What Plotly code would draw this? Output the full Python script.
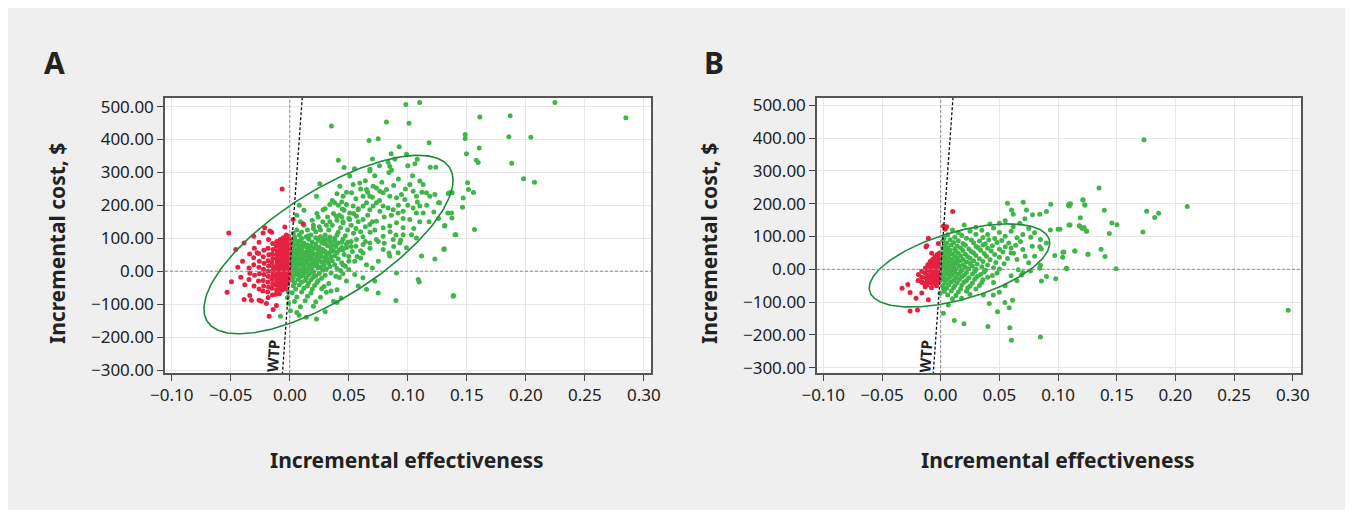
import numpy as np
import plotly.graph_objects as go

# ---------------- data ----------------
X_TICKS = [-0.10, -0.05, 0.00, 0.05, 0.10, 0.15, 0.20, 0.25, 0.30]
Y_TICKS = [-300, -200, -100, 0, 100, 200, 300, 400, 500]
WTP = 50000  # $ per unit of effectiveness (slope of WTP line)

# Panel A: (incremental effectiveness, incremental cost)
A_GREEN = [
    (0.004,96),(0.009,93),(0.016,97),(0.024,94),(0.031,96),(0.038,92),(0.045,97),
    (0.002,88),(0.007,90),(0.012,86),(0.019,89),(0.027,87),(0.034,90),(0.041,86),
    (0.005,81),(0.011,83),(0.015,80),(0.022,82),(0.029,84),(0.036,80),(0.048,83),
    (0.003,75),(0.008,77),(0.013,74),(0.018,76),(0.025,73),(0.032,77),(0.039,75),(0.044,72),
    (0.002,68),(0.006,66),(0.010,69),(0.016,67),(0.021,70),(0.028,66),(0.035,68),(0.042,65),
    (0.004,61),(0.009,63),(0.014,60),(0.019,62),(0.024,64),(0.030,60),(0.037,62),
    (0.003,56),(0.007,54),(0.012,57),(0.017,55),(0.023,53),(0.027,57),(0.033,55),(0.040,58),
    (0.002,49),(0.005,51),(0.010,48),(0.015,50),(0.020,52),(0.026,48),(0.031,50),(0.038,47),(0.046,51),
    (0.004,44),(0.008,42),(0.013,45),(0.018,43),(0.022,46),(0.029,42),(0.035,44),
    (0.002,38),(0.006,36),(0.011,39),(0.016,37),(0.021,35),(0.025,39),(0.032,37),(0.041,38),
    (0.003,31),(0.009,33),(0.014,30),(0.019,32),(0.024,34),(0.030,30),(0.036,32),
    (0.002,26),(0.005,24),(0.010,27),(0.015,25),(0.020,23),(0.027,27),(0.033,25),(0.044,26),
    (0.004,19),(0.008,21),(0.012,18),(0.017,20),(0.023,22),(0.029,18),(0.038,20),
    (0.002,14),(0.006,12),(0.011,15),(0.016,13),(0.021,16),(0.026,12),(0.034,14),
    (0.003,7),(0.007,9),(0.013,6),(0.018,8),(0.024,10),(0.031,7),(0.040,8),
    (0.002,2),(0.005,0),(0.010,3),(0.015,1),(0.020,-1),(0.028,3),
    (0.004,-5),(0.008,-3),(0.012,-6),(0.019,-4),(0.025,-7),(0.035,-5),
    (0.002,-12),(0.006,-10),(0.011,-13),(0.016,-11),(0.022,-14),(0.030,-12),
    (0.003,-19),(0.009,-17),(0.014,-20),(0.020,-18),(0.027,-21),(0.042,-19),
    (0.002,-27),(0.007,-25),(0.013,-28),(0.018,-26),(0.024,-29),
    (0.004,-35),(0.010,-33),(0.016,-36),(0.023,-34),(0.033,-37),
    (0.003,-44),(0.008,-42),(0.015,-45),(0.021,-43),(0.029,-46),
    (0.005,-54),(0.012,-52),(0.019,-55),(0.027,-53),(0.040,-56),
    (0.002,-65),(0.010,-63),(0.018,-66),(0.031,-64),
    (0.006,-78),(0.015,-76),(0.026,-79),
    (0.004,-92),(0.013,-90),(0.022,-93),(0.037,-91),
    (0.009,-108),(0.020,-106),(0.006,-125),(0.030,-123),(0.014,-140),
    (0.050,30),(0.053,60),(0.057,45),(0.049,88),(0.052,75),(0.047,15),(0.043,2),(0.039,-15),(0.045,-8),
    (0.004,104),(0.010,100),(0.016,108),(0.022,102),(0.028,98),(0.034,104),(0.040,110),(0.003,115),
    (0.010,118),(0.020,130),(0.026,125),(0.031,140),(0.034,150),(0.040,155),(0.044,165),(0.019,155),
    (0.023,175),(0.009,150),(0.008,200),(0.012,185),(0.006,170),
    (0.030,110),(0.033,125),(0.036,140),(0.038,100),(0.041,118),(0.043,132),(0.045,150),(0.047,108),
    (0.049,125),(0.052,140),(0.054,115),(0.056,130),(0.058,150),(0.060,120),(0.062,105),(0.064,135),
    (0.066,170),(0.068,118),(0.070,150),(0.072,125),(0.030,85),(0.034,92),(0.039,78),(0.044,88),
    (0.048,72),(0.052,90),(0.056,76),(0.060,62),(0.064,90),(0.028,150),(0.032,165),(0.037,175),
    (0.042,170),(0.046,185),(0.050,160),(0.054,175),(0.058,190),(0.025,135),(0.022,120),(0.026,105),
    (0.035,60),(0.040,55),(0.045,65),(0.050,45),(0.055,30),(0.060,40),(0.065,20),(0.070,10),(0.075,30),
    (0.080,85),(0.085,120),(0.090,110),(0.062,55),(0.068,70),(0.075,90),(0.045,20),(0.050,5),(0.055,-10),
    (0.048,-30),(0.058,-45),(0.062,-20),(0.035,-60),(0.040,-95),(0.065,-55),(0.072,-30),(0.018,110),
    (0.015,125),(0.012,140),(0.020,140),(0.008,110),(0.006,125),(0.014,105),(0.024,165),(0.030,190),
    (0.044,210),(0.048,240),(0.056,220),(0.060,250),(0.064,275),(0.072,290),(0.078,270),(0.084,300),
    (0.088,260),(0.092,280),(0.098,250),(0.104,290),(0.108,210),(0.112,240),(0.116,200),(0.096,160),
    (0.092,200),(0.086,170),(0.080,165),(0.076,215),(0.070,225),(0.066,240),(0.040,235),(0.036,215),
    (0.068,310),(0.076,320),(0.100,320),(0.108,340),(0.122,180),(0.118,150),(0.126,160),(0.100,200),
    (0.094,95),(0.088,75),(0.084,55),(0.105,130),(0.110,150),
    (0.0508,289),(0.0537,263),(0.0593,268),(0.0523,238),(0.0621,228),(0.065,248),(0.0678,228),
    (0.0706,258),(0.0734,253),(0.0763,243),(0.0791,238),(0.0819,248),(0.0847,228),(0.0904,223),
    (0.0946,233),(0.0975,218),(0.1017,263),(0.1045,243),(0.1073,228),(0.1102,274),(0.113,263),
    (0.1158,238),(0.1186,228),(0.1229,233),(0.126,208),(0.1102,198),(0.1045,192),(0.096,182),
    (0.0918,177),(0.0876,187),(0.0833,192),(0.0791,198),(0.0763,182),(0.0734,208),(0.0706,198),
    (0.0678,187),(0.065,208),(0.0621,198),(0.0579,187),(0.0537,198),(0.0508,177),(0.048,203),
    (0.0446,189),(0.0412,200),(0.0381,208),(0.0339,203),(0.0282,187),(0.0226,228),(0.0254,266),
    (0.0424,258),(0.0452,228),(0.0395,167),(0.0452,147),(0.0508,157),(0.0565,167),(0.0621,157),
    (0.0678,142),(0.0734,152),(0.0791,132),(0.0847,137),(0.0904,147),(0.096,132),(0.1017,157),
    (0.1073,177),(0.113,177),(0.096,111),(0.1031,111),(0.1073,101),(0.0989,71),(0.0932,86),
    (0.0876,96),(0.0791,106),(0.0734,96),(0.0678,86),(0.0621,81),(0.0565,96),(0.0791,66),
    (0.0847,46),(0.0918,56),(0.0904,-5),(0.1116,46),(0.1229,37),(0.1305,66),(0.1314,139),
    (0.137,177),(0.1407,111),(0.1088,-25),(0.1096,-33),(0.0749,-66),(0.0899,-89),(0.0435,-81),
    (0.0226,-145),(0.0079,-134),(0.1384,-76),(0.1342,236),(0.137,238),
    (0.0983,506),(0.110,512),(0.0353,441),(0.0819,453),(0.101,449),(0.0749,402),(0.0672,397),
    (0.0927,378),(0.118,390),(0.0412,337),(0.070,341),(0.0859,357),(0.0989,355),(0.089,341),
    (0.0833,331),(0.0847,319),(0.0862,307),(0.106,326),(0.119,316),(0.1237,316),(0.046,315),
    (0.0548,311),(0.0678,304),
    (0.2246,512),(0.2847,466),(0.161,468),(0.1867,472),(0.1486,415),(0.1486,403),(0.1856,408),
    (0.2042,407),(0.1605,374),(0.1497,357),(0.158,337),(0.1596,330),(0.188,328),(0.198,281),
    (0.2073,270),(0.1506,269),(0.1514,248),(0.1556,239),(0.1353,238),(0.1376,238),(0.1469,222),
    (0.1463,194),(0.127,208),(0.1339,177),(0.1373,162),(0.131,137),(0.1565,127),(0.140,111),
    (0.1308,68),(0.1387,-74),
    (-0.0015,-62),(-0.002,-80),(-0.001,-98),(-0.0079,-137),(0.0005,-120),
]
A_RED = [
    (-0.0517,116),(-0.0458,66),(-0.0531,-64),(-0.0494,-32),(-0.0387,86),(-0.0345,-25),(-0.0381,-41),
    (-0.0339,-74),(-0.0387,-86),(-0.0325,-88),(-0.026,-88),(-0.024,-91),(-0.0198,-98),(-0.0175,-137),
    (-0.0141,-116),(-0.0113,-104),(-0.0305,106),(-0.0277,56),(-0.0305,41),(-0.0212,132),(-0.0226,116),
    (-0.0169,122),(-0.0153,118),(-0.0065,250),(-0.0042,134),(0.0028,157),(0.0113,144),
    (-0.001,106),(-0.0008,96),(-0.0012,88),(-0.0006,80),(-0.001,72),(-0.0009,64),(-0.0011,57),
    (-0.0007,50),(-0.001,43),(-0.0012,36),(-0.0008,29),(-0.001,22),(-0.0006,15),(-0.001,8),
    (-0.0012,1),(-0.0009,-6),(-0.0011,-14),(-0.0013,-22),(-0.0015,-30),(-0.0017,-38),
    (-0.003,110),(-0.0032,101),(-0.0028,92),(-0.003,84),(-0.0033,76),(-0.0029,68),(-0.0031,60),
    (-0.003,53),(-0.0028,46),(-0.0032,39),(-0.003,31),(-0.0027,25),(-0.0031,18),(-0.003,11),
    (-0.0033,4),(-0.0029,-3),(-0.0031,-11),(-0.003,-19),(-0.0032,-27),(-0.0034,-35),(-0.0036,-44),
    (-0.0038,-53),
    (-0.0055,102),(-0.0052,90),(-0.0058,80),(-0.0054,71),(-0.0056,62),(-0.0053,54),(-0.0057,46),
    (-0.0055,38),(-0.0052,30),(-0.0058,22),(-0.0055,14),(-0.0053,6),(-0.0057,-2),(-0.0054,-10),
    (-0.0056,-18),(-0.0058,-27),(-0.006,-36),(-0.0062,-46),(-0.0065,-57),
    (-0.008,96),(-0.0083,84),(-0.0078,73),(-0.0082,63),(-0.008,53),(-0.0077,44),(-0.0083,35),
    (-0.008,26),(-0.0078,17),(-0.0082,8),(-0.008,-1),(-0.0084,-11),(-0.0079,-21),(-0.0083,-31),
    (-0.0086,-42),(-0.009,-55),(-0.0088,-68),
    (-0.011,90),(-0.0114,76),(-0.0108,62),(-0.0112,50),(-0.011,38),(-0.0106,27),(-0.0113,16),
    (-0.011,5),(-0.0108,-6),(-0.0114,-17),(-0.0111,-29),(-0.0116,-42),(-0.0112,-56),(-0.0118,-70),
    (-0.0145,84),(-0.0142,66),(-0.0148,52),(-0.0144,39),(-0.015,26),(-0.0141,13),(-0.0147,1),
    (-0.0143,-11),(-0.0149,-24),(-0.0145,-38),(-0.0151,-52),(-0.0147,-72),
    (-0.018,96),(-0.0184,70),(-0.0178,50),(-0.0183,32),(-0.0179,16),(-0.0185,0),(-0.0181,-16),
    (-0.0186,-33),(-0.018,-48),(-0.0187,-63),(-0.0183,-80),
    (-0.022,64),(-0.0225,44),(-0.0218,24),(-0.0223,6),(-0.0219,-10),(-0.0226,-28),(-0.0221,-45),
    (-0.0228,-60),
    (-0.026,88),(-0.0264,54),(-0.0258,30),(-0.0262,12),(-0.0257,-8),(-0.0265,-30),(-0.026,-54),
    (-0.03,70),(-0.0305,20),(-0.0298,-12),(-0.0303,-45),(-0.034,52),(-0.0345,10),(-0.0338,-6),
    (-0.040,30),(-0.0415,-18),(-0.044,12),
]

# Panel B
B_GREEN = [
    (0.006,105),(0.018,103),(0.030,107),
    (0.003,96),(0.012,98),(0.022,95),(0.036,97),(0.046,94),
    (0.002,88),(0.008,90),(0.015,87),(0.026,89),(0.033,86),(0.041,90),(0.052,88),
    (0.005,80),(0.011,82),(0.019,79),(0.028,81),(0.038,78),(0.048,82),(0.058,80),
    (0.003,72),(0.009,74),(0.014,71),(0.021,73),(0.030,70),(0.036,74),(0.044,72),(0.055,69),(0.064,73),
    (0.002,64),(0.006,66),(0.012,63),(0.017,65),(0.024,62),(0.032,66),(0.040,64),(0.050,61),(0.060,65),
    (0.004,56),(0.008,58),(0.013,55),(0.019,57),(0.026,54),(0.034,58),(0.043,56),(0.053,53),
    (0.002,48),(0.006,50),(0.010,47),(0.015,49),(0.021,46),(0.028,50),(0.037,48),(0.046,45),(0.062,49),
    (0.003,40),(0.007,42),(0.012,39),(0.017,41),(0.023,38),(0.030,42),(0.039,40),(0.050,37),
    (0.002,32),(0.005,34),(0.009,31),(0.014,33),(0.019,30),(0.025,34),(0.033,32),(0.042,29),(0.057,33),
    (0.004,24),(0.008,26),(0.012,23),(0.016,25),(0.022,22),(0.028,26),(0.036,24),(0.047,21),
    (0.002,16),(0.006,18),(0.010,15),(0.014,17),(0.019,14),(0.025,18),(0.031,16),(0.040,13),(0.054,17),
    (0.003,8),(0.007,10),(0.011,7),(0.016,9),(0.021,6),(0.027,10),(0.035,8),(0.045,5),
    (0.002,0),(0.005,2),(0.009,-1),(0.013,1),(0.018,-2),(0.024,2),(0.030,0),(0.038,-3),(0.050,1),(0.066,-1),
    (0.004,-8),(0.008,-6),(0.012,-9),(0.017,-7),(0.022,-10),(0.029,-6),(0.037,-8),(0.048,-11),
    (0.002,-16),(0.006,-14),(0.010,-17),(0.015,-15),(0.020,-18),(0.027,-14),(0.034,-16),(0.044,-19),
    (0.003,-24),(0.008,-22),(0.013,-25),(0.018,-23),(0.024,-26),(0.031,-22),(0.040,-24),
    (0.002,-32),(0.006,-30),(0.011,-33),(0.016,-31),(0.022,-34),(0.029,-30),(0.036,-32),
    (0.004,-40),(0.009,-38),(0.014,-41),(0.020,-39),(0.027,-42),(0.035,-40),
    (0.002,-49),(0.007,-47),(0.012,-50),(0.018,-48),(0.025,-51),(0.033,-49),
    (0.005,-58),(0.011,-56),(0.017,-59),(0.023,-57),(0.030,-60),
    (0.003,-68),(0.009,-66),(0.015,-69),(0.022,-67),(0.006,-78),(0.013,-80),(0.010,-90),
    (0.010,120),(0.015,112),(0.025,116),(0.035,119),(0.040,106),(0.045,126),(0.050,112),(0.055,101),
    (0.060,116),(0.065,96),(0.070,106),(0.075,124),(0.080,111),(0.085,91),(0.050,140),(0.042,138),
    (0.030,128),(0.020,135),
    (0.060,50),(0.065,30),(0.070,60),(0.075,20),(0.080,40),(0.085,12),(0.090,80),(0.070,-10),
    (0.065,-35),(0.055,-50),(0.050,-70),(0.045,-40),(0.060,-20),(0.072,40),(0.078,70),(0.068,85),
    (0.0569,201),(0.0703,204),(0.0938,198),(0.1088,196),(0.1099,200),(0.1212,212),(0.1227,196),
    (0.0603,181),(0.0618,168),(0.0731,181),(0.0782,166),(0.0844,168),(0.0901,176),(0.0717,154),
    (0.055,148),(0.0674,140),(0.0618,130),(0.0935,120),(0.1,122),(0.1093,135),(0.1184,132),
    (0.1212,125),(0.1241,117),(0.0768,98),(0.0844,69),(0.0858,62),(0.0972,42),(0.1042,52),
    (0.1142,56),(0.1255,46),(0.1071,3),(0.098,-29),(0.0901,-22),(0.0858,-36),(0.0765,-5),
    (0.0688,-17),(0.0844,3),(0.0612,-94),(0.0547,-101),(0.0584,-117),(0.0484,-129),(0.0402,-174),
    (0.0589,-178),(0.0603,-216),(0.085,-206),(0.0198,-166),(0.0116,-156),(0.0023,-134),
    (0.0065,-109),(0.0414,-104),(0.0249,-76),(0.0363,-78),(0.0448,-78),(0.0178,-88),
    (0.1732,395),(0.1349,248),(0.1212,211),(0.1229,196),(0.1096,193),(0.1107,199),(0.1394,180),
    (0.1755,177),(0.1857,171),(0.1823,158),(0.2101,191),(0.119,157),(0.1102,135),(0.1181,133),
    (0.1204,125),(0.1221,127),(0.1244,116),(0.1459,141),(0.1502,136),(0.1437,109),(0.1723,114),
    (0.1016,122),(0.105,53),(0.1039,37),(0.1144,56),(0.1255,46),(0.1366,61),(0.14,39),
    (0.1073,2),(0.1494,2),(0.2961,-125),
    (-0.0006,-73),(0.0023,-58),
]
B_RED = [
    (0.0102,176),(0.0037,122),(0.0051,130),(0.0023,132),(-0.0105,95),(-0.002,79),(-0.0119,72),
    (-0.0125,69),(-0.0077,49),
    (-0.0329,-58),(-0.028,-46),(-0.0261,-71),(-0.021,-88),(-0.0161,-72),(-0.0105,-93),
    (-0.0261,-127),(-0.0198,-124),(-0.0161,-38),(-0.0133,-53),
    (-0.001,50),(-0.0008,42),(-0.0012,34),(-0.001,26),(-0.0007,18),(-0.0011,10),(-0.0009,2),
    (-0.0012,-6),(-0.001,-14),(-0.0013,-22),(-0.0011,-30),(-0.0014,-38),
    (-0.003,45),(-0.0033,36),(-0.0028,28),(-0.0031,20),(-0.0029,12),(-0.0032,4),(-0.003,-4),
    (-0.0028,-12),(-0.0033,-20),(-0.003,-30),(-0.0034,-40),(-0.0036,-50),
    (-0.005,38),(-0.0053,26),(-0.0048,18),(-0.0052,10),(-0.005,2),(-0.0047,-6),(-0.0053,-14),
    (-0.005,-22),(-0.0054,-32),(-0.0056,-44),
    (-0.007,30),(-0.0073,20),(-0.0068,10),(-0.0072,0),(-0.007,-10),(-0.0074,-20),(-0.0069,-30),
    (-0.0075,-42),(-0.0078,-56),
    (-0.009,24),(-0.0093,8),(-0.0088,-4),(-0.0092,-16),(-0.009,-28),(-0.0095,-40),
    (-0.011,14),(-0.0113,-2),(-0.0108,-18),(-0.0112,-34),(-0.0115,-48),
    (-0.013,4),(-0.0134,-12),(-0.0128,-26),(-0.0133,-42),
    (-0.016,-6),(-0.0163,-24),(-0.0158,-40),(-0.019,-16),(-0.0193,-34),
]

# confidence ellipse parameters: centre x, centre y, sd x, sd y, correlation
ELLIPSE_A = dict(cx=0.0328, cy=81, sx=0.1055, sy=271, rho=0.72)
ELLIPSE_B = dict(cx=0.016, cy=11.7, sx=0.0769, sy=126.6, rho=0.54)

# ---------------- styling / layout ----------------
# the page adds an 8 px body margin, so page coordinates are shifted by OFF
OFF = 8
W, H = 1353 - OFF, 513 - OFF
GREEN = "#3fb54a"
RED = "#e42140"
ELL = "#1d8a3e"
FONT = "Noto Sans"
TXT = "#222222"

def px(x):
    return (x - OFF) / W

def py(y):
    return 1 - (y - OFF) / H

panels = [
    dict(name="A", green=A_GREEN, red=A_RED, ell=ELLIPSE_A, xdom=[px(165), px(651)],
         xr=[-0.1057, 0.306], yr=[-309, 526], ax="x", ay="y", label_x=55, wtp_lab=(-0.0142, -258)),
    dict(name="B", green=B_GREEN, red=B_RED, ell=ELLIPSE_B, xdom=[px(817), px(1301)],
         xr=[-0.1054, 0.307], yr=[-316, 522], ax="x2", ay="y2", label_x=714, wtp_lab=(-0.0134, -266)),
]
ydom = [py(373), py(98)]

fig = go.Figure()
annotations = []
shapes = [
    dict(type="rect", xref="paper", yref="paper", x0=px(1349), x1=1.01, y0=-0.01, y1=1.01,
         fillcolor="white", line=dict(width=0)),
    dict(type="rect", xref="paper", yref="paper", x0=-0.01, x1=1.01, y0=-0.01, y1=py(510),
         fillcolor="white", line=dict(width=0)),
]

for p in panels:
    gx = [v[0] for v in p["green"]]; gy = [v[1] for v in p["green"]]
    rx = [v[0] for v in p["red"]]; ry = [v[1] for v in p["red"]]
    fig.add_trace(go.Scatter(x=gx, y=gy, mode="markers", xaxis=p["ax"], yaxis=p["ay"],
                             marker=dict(color=GREEN, size=5, line=dict(width=0)), showlegend=False))
    fig.add_trace(go.Scatter(x=rx, y=ry, mode="markers", xaxis=p["ax"], yaxis=p["ay"],
                             marker=dict(color=RED, size=5, line=dict(width=0)), showlegend=False))
    axn = p["ax"]
    ayn = p["ay"]
    # zero reference lines
    shapes.append(dict(type="line", xref=axn, yref=ayn + " domain", x0=0, x1=0, y0=0, y1=1,
                       line=dict(color="#8a8a8a", width=1, dash="3px,2px")))
    shapes.append(dict(type="line", xref=axn + " domain", yref=ayn, x0=0, x1=1, y0=0, y1=0,
                       line=dict(color="#8a8a8a", width=1, dash="3px,2px")))
    # WTP line
    wy = [p["yr"][0] - 20, p["yr"][1] + 20]
    fig.add_trace(go.Scatter(x=[v / WTP for v in wy], y=wy, mode="lines", xaxis=p["ax"], yaxis=p["ay"],
                             line=dict(color="#111111", width=1.3, dash="3px,2px"), showlegend=False,
                             hoverinfo="skip"))
    # ellipse
    e = p["ell"]
    t = np.linspace(0, 2 * np.pi, 241)
    ex = e["cx"] + e["sx"] * np.cos(t)
    ey = e["cy"] + e["sy"] * (e["rho"] * np.cos(t) + np.sqrt(1 - e["rho"] ** 2) * np.sin(t))
    fig.add_trace(go.Scatter(x=ex, y=ey, mode="lines", xaxis=p["ax"], yaxis=p["ay"],
                             line=dict(color=ELL, width=1.6), showlegend=False, hoverinfo="skip"))
    # WTP label
    annotations.append(dict(x=p["wtp_lab"][0], y=p["wtp_lab"][1], xref=axn, yref=ayn, text="<b>WTP</b>",
                            showarrow=False, textangle=-86, font=dict(family=FONT, size=15, color=TXT)))
    # panel letter
    annotations.append(dict(x=px(p["label_x"]), y=py(63), xref="paper", yref="paper", text="<b>%s</b>" % p["name"],
                            showarrow=False, font=dict(family=FONT, size=30, color=TXT), xanchor="center", yanchor="middle"))
    # axis titles
    xc = (p["xdom"][0] + p["xdom"][1]) / 2 * W + OFF
    annotations.append(dict(x=px(xc - 1), y=py(460), xref="paper", yref="paper",
                            text="<b>Incremental effectiveness</b>", showarrow=False,
                            font=dict(family=FONT, size=21, color=TXT), xanchor="center", yanchor="middle"))
    annotations.append(dict(x=px(p["xdom"][0] * W + OFF - 108), y=py(244), xref="paper", yref="paper",
                            text="<b>Incremental cost, $</b>", showarrow=False, textangle=-90,
                            font=dict(family=FONT, size=21, color=TXT), xanchor="center", yanchor="middle"))

axis_common = dict(showgrid=True, gridcolor="#e8e8e8", gridwidth=1, zeroline=False, showline=True,
                   mirror=True, linecolor="#555555", linewidth=1.5, ticks="outside", ticklen=6,
                   tickwidth=1.2, tickcolor="#444444", tickfont=dict(family=FONT, size=17, color=TXT),
                   tickformat=".2f", automargin=False)

layout = dict(width=W, height=H, margin=dict(l=0, r=0, t=0, b=0), paper_bgcolor="#efefef",
              plot_bgcolor="white", showlegend=False, annotations=annotations, shapes=shapes)
for i, p in enumerate(panels):
    sfx = "" if i == 0 else "2"
    layout["xaxis" + sfx] = dict(axis_common, domain=p["xdom"], range=p["xr"], tickvals=X_TICKS,
                                 anchor="y" + sfx)
    layout["yaxis" + sfx] = dict(axis_common, domain=ydom, range=p["yr"], tickvals=Y_TICKS,
                                 anchor="x" + sfx)
fig.update_layout(**layout)
fig.write_html("out.html")
